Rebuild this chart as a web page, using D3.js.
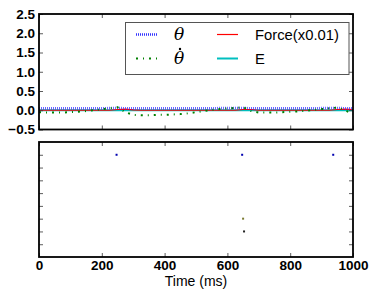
<!DOCTYPE html>
<html>
<head>
<meta charset="utf-8">
<script src="https://cdn.jsdelivr.net/npm/d3@7"></script>
<style>
  body { margin: 0; background: #fff; }
</style>
</head>
<body>
<div id="chart"></div>
<script>
// time samples (ms) and the four traces of the top panel
var time = [0,25,50,75,100,125,150,175,200,225,250,275,300,325,350,375,400,425,450,475,
            500,525,550,575,600,625,650,675,700,725,750,775,800,825,850,875,900,925,950,975,1000];
var theta = [0.05,0.05,0.05,0.05,0.05,0.05,0.05,0.05,0.05,0.055,0.06,0.05,0.05,0.05,0.05,0.05,0.05,0.05,0.05,0.05,
             0.05,0.05,0.05,0.055,0.055,0.06,0.06,0.05,0.05,0.05,0.05,0.05,0.05,0.05,0.05,0.05,0.055,0.06,0.06,0.05,0.05];
var thetaDot = [-0.05,-0.06,-0.06,-0.06,-0.05,-0.04,-0.02,0.0,0.03,0.05,0.08,-0.05,-0.12,-0.13,-0.13,-0.12,-0.12,-0.11,-0.1,-0.08,
                -0.05,-0.02,0.01,0.03,0.05,0.06,0.08,-0.02,-0.06,-0.06,-0.06,-0.05,-0.04,-0.03,-0.01,0.01,0.03,0.05,0.07,0.0,-0.1];
var force = [0,0,0,0,0,0,0,0,0,0,0.02,0.03,0.01,0,0,0,0,0,0,0,
             0,0,0,0,0,0,0.02,0.02,0,0,0,0,0,0,0,0,0,0,0.02,0.03,0.02];
var energy = [0,0,0,0,0,0,0,0,0,0,0,0,0,0,0,0,0,0,0,0,
              0,0,0,0,0,0,0,0,0,0,0,0,0,0,0,0,0,0,0,0,0];

// spike raster of the bottom panel
var spikeTimes = [247, 647, 937, 650, 653];
var spikeUnits = [8, 8, 8, 3, 2];
var spikeColors = ['#0000b0', '#0000b0', '#0000b0', '#7a7a30', '#222222'];

var yTicksTop = [-0.5, 0.0, 0.5, 1.0, 1.5, 2.0, 2.5];
var xTicks = [0, 200, 400, 600, 800, 1000];

var width = 374, height = 291;
var left = 39, right = 353;
var top1 = 14, bottom1 = 129.5;
var top2 = 142, bottom2 = 257;

var svg = d3.select('#chart').append('svg')
  .attr('width', width)
  .attr('height', height)
  .style('font-family', 'Liberation Sans, Arial, sans-serif');

var x = d3.scaleLinear().domain([0, 1000]).range([left, right]);
var y1 = d3.scaleLinear().domain([-0.5, 2.5]).range([bottom1, top1]);
var y2 = d3.scaleLinear().domain([0, 9]).range([bottom2, top2]);

function fmt(d) { return d < 0 ? '\u2212' + Math.abs(d).toFixed(1) : d.toFixed(1); }

// inward ticks on all four sides, matplotlib classic style
function frame(yScale, yTickVals, showY, showX, yT, yB) {
  var g = svg.append('g');
  g.append('g').attr('transform', 'translate(' + left + ',0)')
    .call(d3.axisLeft(yScale).tickValues(yTickVals).tickSizeInner(-4).tickSizeOuter(0)
      .tickPadding(4).tickFormat(showY ? fmt : ''));
  g.append('g').attr('transform', 'translate(' + right + ',0)')
    .call(d3.axisRight(yScale).tickValues(yTickVals).tickSizeInner(-4).tickSizeOuter(0).tickFormat(''));
  g.append('g').attr('transform', 'translate(0,' + yB + ')')
    .call(d3.axisBottom(x).tickValues(xTicks).tickSizeInner(-4).tickSizeOuter(0)
      .tickPadding(3).tickFormat(showX ? d3.format('d') : ''));
  g.append('g').attr('transform', 'translate(0,' + yT + ')')
    .call(d3.axisTop(x).tickValues(xTicks).tickSizeInner(-4).tickSizeOuter(0).tickFormat(''));
  g.selectAll('.domain').remove();
  g.selectAll('.tick line').attr('stroke', '#333').attr('stroke-width', 0.8);
  g.selectAll('.tick text').attr('fill', '#000').style('font-size', '13.5px').style('font-weight', 'bold')
    .style('font-family', 'Liberation Sans, Arial, sans-serif');
  svg.append('rect').attr('x', left).attr('y', yT).attr('width', right - left).attr('height', yB - yT)
    .attr('fill', 'none').attr('stroke', '#000').attr('stroke-width', 1.8);
}

// top panel lines
var line = function (vals) {
  return d3.line().x(function (d, i) { return x(time[i]); }).y(function (d) { return y1(d); })(vals);
};
svg.append('clipPath').attr('id', 'c1').append('rect')
  .attr('x', left).attr('y', top1).attr('width', right - left).attr('height', bottom1 - top1);
var gTop = svg.append('g').attr('clip-path', 'url(#c1)');

gTop.append('path').attr('d', line(energy)).attr('fill', 'none')
  .attr('stroke', '#00bfbf').attr('stroke-width', 2);
gTop.append('path').attr('d', line(force)).attr('fill', 'none')
  .attr('stroke', '#ff0000').attr('stroke-width', 1.2);
gTop.append('path').attr('d', line(theta)).attr('fill', 'none')
  .attr('stroke', '#3333ff').attr('stroke-opacity', 0.75).attr('stroke-width', 2.6)
  .attr('stroke-dasharray', '1,1');
gTop.append('path').attr('d', line(thetaDot)).attr('fill', 'none')
  .attr('stroke', '#008000').attr('stroke-width', 2)
  .attr('stroke-dasharray', '2,5,1,5');

frame(y1, yTicksTop, true, false, top1, bottom1);

// legend
var lg = svg.append('g');
lg.append('rect').attr('x', 125.5).attr('y', 22.5).attr('width', 223.5).attr('height', 52)
  .attr('fill', '#fff').attr('stroke', '#555').attr('stroke-width', 1);
var legendItems = [
  { label: '\u03b8', math: true, dot: false, col: 0, row: 0, color: '#3333ff', dash: '1,1', w: 2.6 },
  { label: '\u03b8', math: true, dot: true, col: 0, row: 1, color: '#008000', dash: '2,5,1,5', w: 2 },
  { label: 'Force(x0.01)', math: false, col: 1, row: 0, color: '#ff0000', dash: null, w: 1.2 },
  { label: 'E', math: false, col: 1, row: 1, color: '#00bfbf', dash: null, w: 2 }
];
legendItems.forEach(function (d) {
  var lx = d.col === 0 ? 136 : 217;
  var ly = d.row === 0 ? 34.5 : 58.5;
  var tx = d.col === 0 ? 174 : 255;
  lg.append('line').attr('x1', lx).attr('x2', lx + 21).attr('y1', ly).attr('y2', ly)
    .attr('stroke', d.color).attr('stroke-width', d.w)
    .attr('stroke-dasharray', d.dash);
  lg.append('text').attr('x', tx).attr('y', ly + 5.5)
    .text(d.label)
    .style('font-family', d.math ? 'DejaVu Serif, serif' : 'Liberation Sans, Arial, sans-serif')
    .style('font-style', d.math ? 'italic' : 'normal')
    .style('font-size', d.math ? '17px' : '14.8px');
  if (d.dot) {
    lg.append('circle').attr('cx', tx + 6).attr('cy', ly - 9.5).attr('r', 1.2).attr('fill', '#000');
  }
});

// bottom panel raster
svg.append('g').selectAll('rect').data(spikeTimes)
  .enter().append('rect')
  .attr('x', function (d) { return x(d) - 1; })
  .attr('y', function (d, i) { return y2(spikeUnits[i]) - 1; })
  .attr('width', 2).attr('height', 2)
  .attr('fill', function (d, i) { return spikeColors[i]; });

frame(y2, [1, 2, 3, 4, 5, 6, 7, 8], false, true, top2, bottom2);

svg.append('text').attr('x', (left + right) / 2).attr('y', 286)
  .attr('text-anchor', 'middle').style('font-size', '14px').text('Time (ms)');
</script>
</body>
</html>
